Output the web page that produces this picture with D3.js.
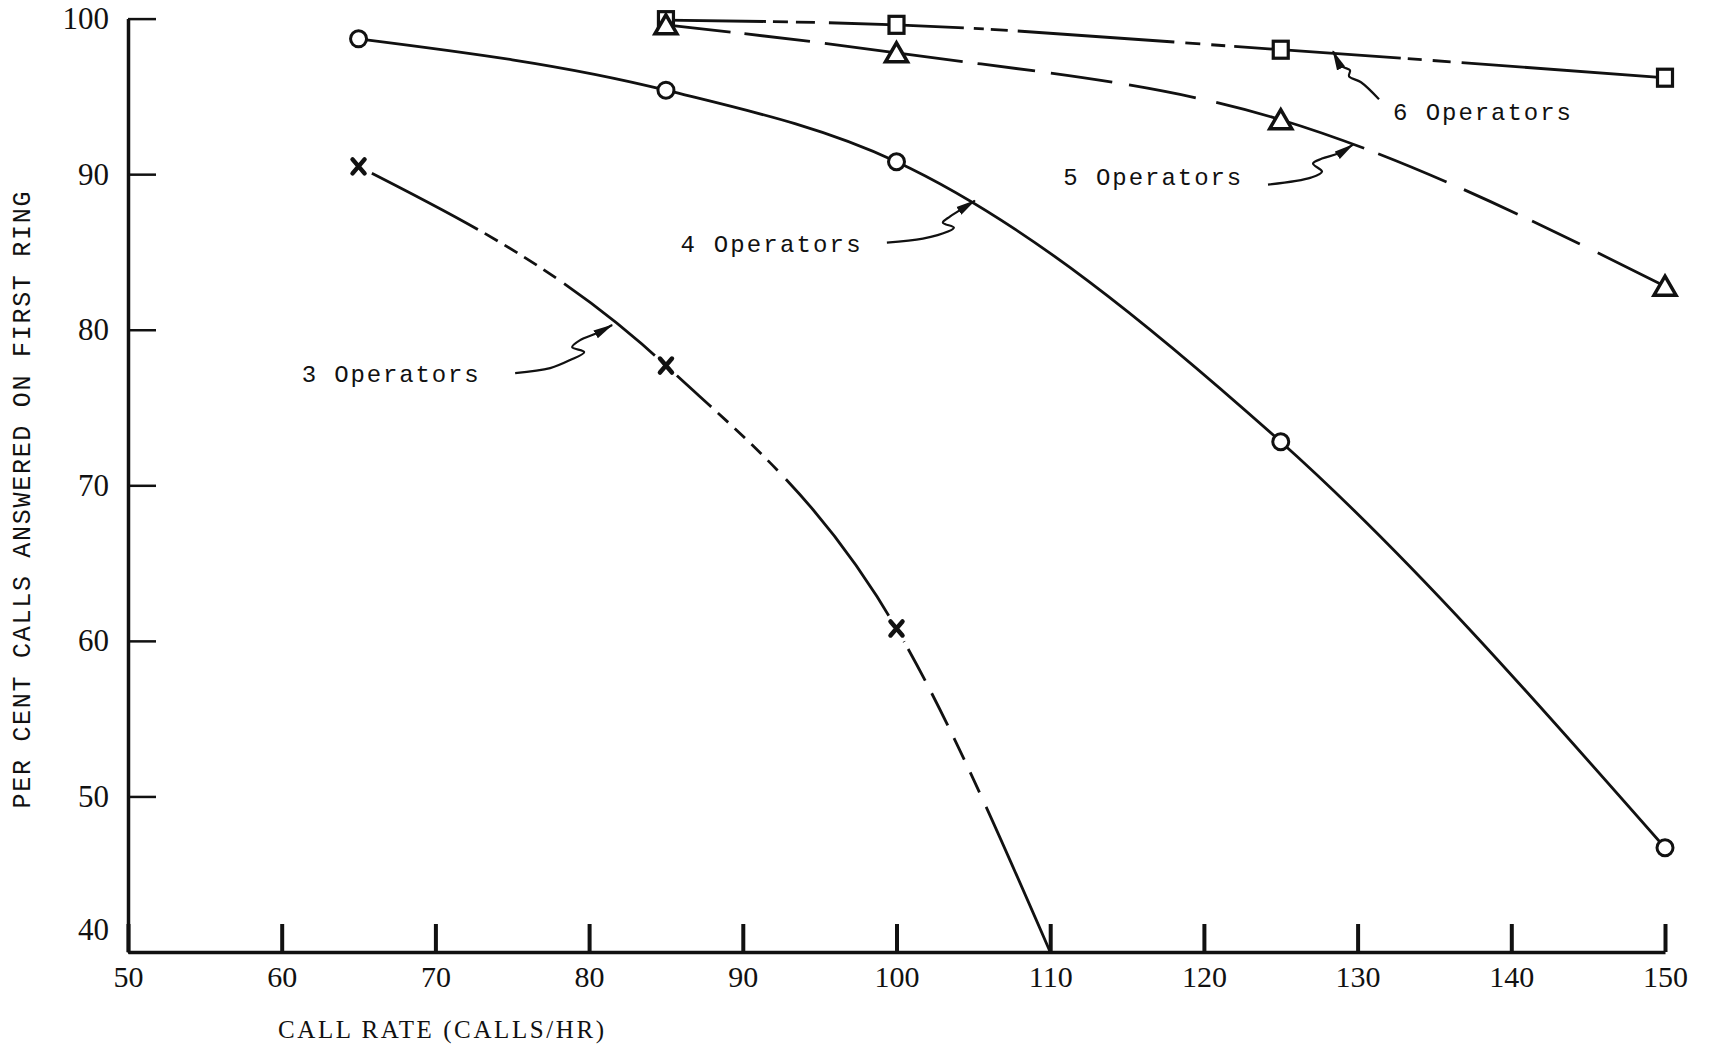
<!DOCTYPE html>
<html>
<head>
<meta charset="utf-8">
<script src="https://cdn.jsdelivr.net/npm/d3@7"></script>
<style>
  html, body { margin: 0; padding: 0; background: #fff; }
  svg { display: block; }
</style>
</head>
<body>
<svg id="chart" width="1712" height="1048"></svg>
<script>
'use strict';

// tick values
const X_TICKS = [50, 60, 70, 80, 90, 100, 110, 120, 130, 140, 150];
const Y_TICKS = [40, 50, 60, 70, 80, 90, 100];

// call rate (calls/hr) against per cent answered on first ring
const RATE_3 = [65, 85, 100, 110];
const PCT_3 = [90.5, 77.7, 60.8, 40];
const RATE_4 = [65, 85, 100, 125, 150];
const PCT_4 = [98.7, 95.4, 90.8, 72.8, 46.7];
const RATE_5 = [85, 100, 125, 150];
const PCT_5 = [99.6, 97.8, 93.5, 82.8];
const RATE_6 = [85, 100, 125, 150];
const PCT_6 = [99.9, 99.6, 98.0, 96.2];

const LABELS = ['3 Operators', '4 Operators', '5 Operators', '6 Operators'];

const INK = '#111';
const SERIF = '"Liberation Serif", "Times New Roman", serif';
const MONO = '"Liberation Mono", "DejaVu Sans Mono", monospace';

// how each curve is drawn (dashes follow the hand inked original)
const STYLES = [
    { marker: 'x', skipLast: true,
      dash: '135,8,15,8,15,8,15,8,15,10,192,9,14,9,14,9,14,9,14,12,202,8,36,14,36,14,24,14,22,16,600,10' },
    { marker: 'circle', skipLast: false, dash: null },
    { marker: 'triangle', skipLast: false,
      dash: '65,14,66,15,139,15,58,16,62,17,68,21,155,15,74,19,59,16,53,20,120,10' },
    { marker: 'square', skipLast: false,
      dash: '100,7,15,8,19,14,135,10,10,7,17,10,157,11,15,11,14,9,167,7,14,11,18,11,300,10' },
];

// label anchors and arrow tips in chart units, leader wiggles in pixels from the tip
const NOTES = [
    { at: [61.3, 76.65], width: 177, tip: [81.5, 80.3],
      leader: [[-97, 48], [-62, 43], [-42, 35], [-28, 27], [-40, 22], [-32, 15], [-15, 8], [0, 0]] },
    { at: [85.95, 85.0], width: 180, tip: [105.1, 88.3],
      leader: [[-88, 42], [-52, 38], [-27, 31], [-21, 27], [-32, 22], [-25, 16], [-14, 9], [0, 0]] },
    { at: [110.85, 89.3], width: 178, tip: [129.7, 91.9],
      leader: [[-85, 40], [-42, 33], [-31, 27], [-40, 19], [-31, 14], [-15, 9], [0, 0]] },
    { at: [132.3, 93.5], width: 178, tip: [128.4, 97.9],
      leader: [[46, 48], [28, 31], [16, 25], [17, 19], [9, 15], [0, 0]] },
];

const svg = d3.select('#chart');

const x = d3.scaleLinear().domain([50, 150]).range([128, 1665]);
const y = d3.scaleLinear().domain([40, 100]).range([952, 18.6]);

svg.append('rect').attr('width', 1712).attr('height', 1048).attr('fill', '#fff');

// arrow head for the label leaders
svg.append('defs').append('marker')
    .attr('id', 'head')
    .attr('viewBox', '0 -5 20 10')
    .attr('markerUnits', 'userSpaceOnUse')
    .attr('markerWidth', 20)
    .attr('markerHeight', 10)
    .attr('refX', 19)
    .attr('refY', 0)
    .attr('orient', 'auto')
    .append('path')
    .attr('d', 'M0,-4.5L20,0L0,4.5Z')
    .attr('fill', INK);

// Y axis, ticks pointing in
const yAxis = svg.append('g')
    .attr('transform', `translate(${x(50)},0)`)
    .call(d3.axisLeft(y).tickValues(Y_TICKS).tickSize(-28).tickSizeOuter(0).tickPadding(19));
yAxis.select('.domain').attr('stroke', INK).attr('stroke-width', 3.5);
yAxis.selectAll('.tick line').attr('stroke', INK).attr('stroke-width', 2.5);
yAxis.selectAll('.tick text')
    .attr('font-family', SERIF)
    .attr('font-size', 31)
    .attr('fill', INK);
// the 40 sits up off the base line
yAxis.selectAll('.tick').filter((d) => d === 40).select('text').attr('y', -22);

// X axis, ticks pointing up
const xAxis = svg.append('g')
    .attr('transform', `translate(0,${y(40)})`)
    .call(d3.axisBottom(x).tickValues(X_TICKS).tickSize(-28).tickSizeOuter(0).tickPadding(14));
xAxis.select('.domain').attr('stroke', INK).attr('stroke-width', 3.5);
xAxis.selectAll('.tick line').attr('stroke', INK).attr('stroke-width', 4);
xAxis.selectAll('.tick text')
    .attr('font-family', SERIF)
    .attr('font-size', 30)
    .attr('fill', INK);

// axis titles
svg.append('text')
    .attr('transform', 'translate(23,500) rotate(-90)')
    .attr('text-anchor', 'middle')
    .attr('dominant-baseline', 'central')
    .attr('font-family', MONO)
    .attr('font-size', 25)
    .attr('textLength', 617)
    .attr('lengthAdjust', 'spacing')
    .attr('fill', INK)
    .text('PER CENT CALLS ANSWERED ON FIRST RING');

svg.append('text')
    .attr('x', 278)
    .attr('y', 1038)
    .attr('font-family', SERIF)
    .attr('font-size', 25)
    .attr('textLength', 326)
    .attr('lengthAdjust', 'spacing')
    .attr('fill', INK)
    .text('CALL RATE (CALLS/HR)');

// curves
const series = [[RATE_3, PCT_3], [RATE_4, PCT_4], [RATE_5, PCT_5], [RATE_6, PCT_6]]
    .map(([rate, pct]) => d3.zip(rate, pct));

const line = d3.line()
    .x((d) => x(d[0]))
    .y((d) => y(d[1]))
    .curve(d3.curveMonotoneX);

svg.append('g')
    .selectAll('path')
    .data(series)
    .join('path')
    .attr('d', line)
    .attr('fill', 'none')
    .attr('stroke', INK)
    .attr('stroke-width', 2.8)
    .attr('stroke-dasharray', (d, i) => STYLES[i].dash);

// point markers
const drawMarker = (g, type) => {
    if (type === 'x') {
        g.append('circle').attr('r', 15).attr('fill', '#fff');
        g.append('path')
            .attr('d', 'M-6,-7L6,7M6,-7L-6,7')
            .attr('stroke', INK)
            .attr('stroke-width', 4.5)
            .attr('stroke-linecap', 'round');
    } else if (type === 'circle') {
        g.append('circle')
            .attr('r', 8)
            .attr('fill', '#fff')
            .attr('stroke', INK)
            .attr('stroke-width', 3);
    } else if (type === 'triangle') {
        g.append('path')
            .attr('d', 'M0,-10L11,9L-11,9Z')
            .attr('fill', '#fff')
            .attr('stroke', INK)
            .attr('stroke-width', 3.5)
            .attr('stroke-linejoin', 'miter');
    } else {
        g.append('rect')
            .attr('x', -7.5).attr('y', -8.5)
            .attr('width', 15).attr('height', 17)
            .attr('fill', '#fff')
            .attr('stroke', INK)
            .attr('stroke-width', 3.2);
    }
};

// squares under triangles so the shared point at 85 shows both
[3, 2, 1, 0].forEach((i) => {
    const pts = STYLES[i].skipLast ? series[i].slice(0, -1) : series[i];
    svg.append('g')
        .selectAll('g')
        .data(pts)
        .join('g')
        .attr('transform', (d) => `translate(${x(d[0])},${y(d[1])})`)
        .each(function () { drawMarker(d3.select(this), STYLES[i].marker); });
});

// labels with their wiggly leaders
const leader = d3.line().curve(d3.curveCatmullRom);

NOTES.forEach((note, i) => {
    const tx = x(note.tip[0]);
    const ty = y(note.tip[1]);
    svg.append('path')
        .attr('d', leader(note.leader.map(([dx, dy]) => [tx + dx, ty + dy])))
        .attr('fill', 'none')
        .attr('stroke', INK)
        .attr('stroke-width', 2.2)
        .attr('marker-end', 'url(#head)');

    svg.append('text')
        .attr('x', x(note.at[0]))
        .attr('y', y(note.at[1]))
        .attr('font-family', MONO)
        .attr('font-size', 24)
        .attr('textLength', note.width)
        .attr('lengthAdjust', 'spacing')
        .attr('fill', INK)
        .text(LABELS[i]);
});
</script>
</body>
</html>
